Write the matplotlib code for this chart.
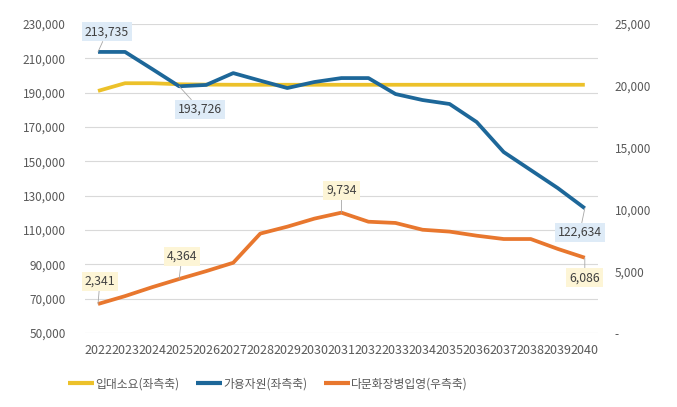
import matplotlib.pyplot as plt
import matplotlib.ticker as mticker

plt.rcParams['font.family'] = ['Noto Sans CJK KR', 'DejaVu Sans']

years = list(range(2022, 2041))
demand = [191000, 195500, 195500, 194900, 194700, 194600, 194600, 194600, 194600, 194600,
          194600, 194600, 194600, 194600, 194600, 194600, 194600, 194600, 194600]
available = [213735, 213735, 203800, 193726, 194500, 201400, 197000, 192700, 196200, 198500,
             198500, 189200, 185700, 183400, 172900, 155400, 144900, 134400, 122634]
multicultural = [2341, 2980, 3700, 4364, 5000, 5680, 8040, 8600, 9250, 9734,
                 9000, 8900, 8350, 8200, 7870, 7600, 7600, 6800, 6086]

labels = ["입대소요(좌측축)", "가용자원(좌측축)", "다문화장병입영(우측축)"]
C_YEL = "#ecc12a"
C_BLU = "#1d6799"
C_ORA = "#e8772e"
TXT = "#595959"
FS = 8.5

fig = plt.figure(figsize=(6.77, 4.07), dpi=100)
ax = fig.add_axes([0.1256, 0.182, 0.7574, 0.759])
ax2 = ax.twinx()

l1, = ax.plot(years, demand, color=C_YEL, lw=2.7, solid_capstyle='butt', zorder=3)
l2, = ax.plot(years, available, color=C_BLU, lw=2.7, solid_capstyle='butt', zorder=4)
l3, = ax2.plot(years, multicultural, color=C_ORA, lw=2.7, solid_capstyle='butt', zorder=3)

ax.set_xlim(2021.52, 2040.48)
ax.set_ylim(50000, 230000)
ax.set_yticks(range(50000, 230001, 20000))
ax2.set_ylim(0, 25000)
ax2.set_yticks(range(0, 25001, 5000))
ax.set_xticks(years)
ax.set_xticklabels([str(y) for y in years])

ax.yaxis.set_major_formatter(mticker.FuncFormatter(lambda v, p: f"{v:,.0f}"))
ax2.yaxis.set_major_formatter(mticker.FuncFormatter(lambda v, p: "-" if v == 0 else f"{v:,.0f}"))

ax.grid(axis='y', color='#d9d9d9', lw=0.8)
ax.set_axisbelow(True)
for a in (ax, ax2):
    for s in a.spines.values():
        s.set_visible(False)
    a.tick_params(length=0, labelsize=FS, colors=TXT)
ax.tick_params(axis='y', pad=14)
ax2.tick_params(axis='y', pad=12)
ax.tick_params(axis='x', pad=8, labelsize=9.0)

def tag(axis, i, vals, dx, dy, fc):
    axis.annotate(f"{vals[i]:,}", xy=(years[i], vals[i]), xytext=(dx, dy),
                  textcoords='offset points', ha='center', va='center',
                  fontsize=8.8, color="#404040",
                  bbox=dict(boxstyle='square,pad=0.25', fc=fc, ec='none'),
                  arrowprops=dict(arrowstyle='-', color='#a6a6a6', lw=0.6,
                                  shrinkA=0, shrinkB=0), zorder=6)

BLUE_BOX = "#deebf7"
YEL_BOX = "#fdf5d6"
tag(ax, 0, available, 6.5, 14.4, BLUE_BOX)
tag(ax, 3, available, 15, -16.5, BLUE_BOX)
tag(ax, 18, available, -3.6, -17.3, BLUE_BOX)
tag(ax2, 0, multicultural, 1.4, 16.5, YEL_BOX)
tag(ax2, 3, multicultural, 2, 16.5, YEL_BOX)
tag(ax2, 9, multicultural, 0, 16, YEL_BOX)
tag(ax2, 18, multicultural, 0, -14.4, YEL_BOX)

leg = fig.legend([l1, l2, l3], labels, loc='center', bbox_to_anchor=(268 / 677, 1 - 384 / 407),
                 ncol=3, frameon=False, fontsize=8.5, handlelength=2.2, columnspacing=1.4,
                 handletextpad=0.1, labelcolor=TXT)
for h in leg.legend_handles:
    h.set_linewidth(3)

fig.savefig("out.png", dpi=100)
